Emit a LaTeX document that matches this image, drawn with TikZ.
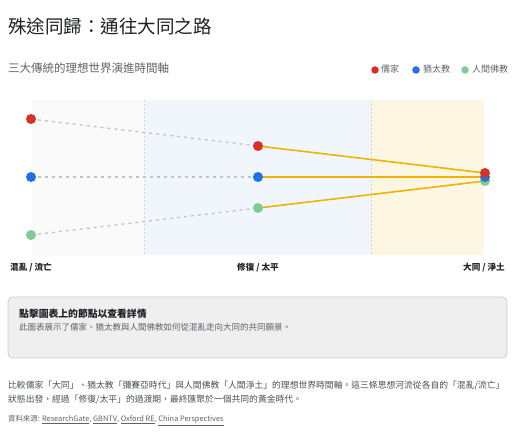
\documentclass[tikz,border=0pt]{standalone}
\usepackage{fontspec}
\setmainfont{Noto Sans CJK TC}
\definecolor{cRed}{HTML}{D93025}
\definecolor{cBlue}{HTML}{1A73E8}
\definecolor{cGreen}{HTML}{81C995}
\definecolor{cGold}{HTML}{F0B400}
\definecolor{cDot}{HTML}{C4C4C4}
\definecolor{cDark}{HTML}{202124}
\definecolor{cGray}{HTML}{5F6368}
\definecolor{bandA}{HTML}{FAFAFA}
\definecolor{bandB}{HTML}{F0F6FC}
\definecolor{bandC}{HTML}{FDF6E3}
\definecolor{boxFill}{HTML}{EFEFEF}
\definecolor{boxLine}{HTML}{CCCCCC}
\tikzset{
  pt/.style={circle, inner sep=0pt, minimum size=10pt},
  legdot/.style={circle, inner sep=0pt, minimum size=7.5pt},
  txt/.style={inner sep=0pt, anchor=base west},
  past/.style={draw=cDot, line width=1.3pt, dash pattern=on 3pt off 4pt},
  future/.style={draw=cGold, line width=1.6pt},
  axislab/.style={inner sep=0pt, anchor=base, font=\fontsize{8.6}{10}\selectfont\bfseries, text=cDark},
}
\begin{document}
\begin{tikzpicture}[x=1pt,y=-1pt]
\useasboundingbox (0,0) rectangle (523,438);
\fill[white] (0,0) rectangle (523,438);
% title
\node[txt, font=\fontsize{18.5}{22}\selectfont, text=cDark] (title) at (8,34) {殊途同歸：通往大同之路};
\node[txt, font=\fontsize{11.5}{14}\selectfont, text=cGray] (sub) at (8,72.5) {三大傳統的理想世界演進時間軸};
% legend
\node[legdot, fill=cRed] (lr) at (375,70) {};
\node[txt, font=\fontsize{9}{11}\selectfont, text=cGray] (lrt) at (381,72.5) {儒家};
\node[legdot, fill=cBlue] (lb) at (416,70) {};
\node[txt, font=\fontsize{9}{11}\selectfont, text=cGray] (lbt) at (423,72.5) {猶太教};
\node[legdot, fill=cGreen] (lg) at (465,70) {};
\node[txt, font=\fontsize{9}{11}\selectfont, text=cGray] (lgt) at (472,72.5) {人間佛教};
% bands
\fill[bandA] (32,100) rectangle (144,255);
\fill[bandB] (144,100) rectangle (371,255);
\fill[bandC] (371,100) rectangle (484,255);
\draw[cDot!70, line width=0.5pt, dash pattern=on 2pt off 2pt] (144,100) -- (144,255);
\draw[cDot!70, line width=0.5pt, dash pattern=on 2pt off 2pt] (371,100) -- (371,255);
% points (coordinates)
\coordinate (r0) at (31,119);
\coordinate (b0) at (31,177);
\coordinate (g0) at (31,235);
\coordinate (r1) at (258,146);
\coordinate (b1) at (258,177);
\coordinate (g1) at (258,208);
\coordinate (r2) at (485,173);
\coordinate (b2) at (485,177);
\coordinate (g2) at (485,181);
% lines
\draw[past] (r0) -- (r1);
\draw[past] (b0) -- (b1);
\draw[past] (g0) -- (g1);
\draw[future] (r1) -- (r2);
\draw[future] (b1) -- (b2);
\draw[future] (g1) -- (g2);
% dots
\node[pt, fill=cRed] (R0) at (r0) {};
\node[pt, fill=cBlue] (B0) at (b0) {};
\node[pt, fill=cGreen] (G0) at (g0) {};
\node[pt, fill=cRed] (R1) at (r1) {};
\node[pt, fill=cBlue] (B1) at (b1) {};
\node[pt, fill=cGreen] (G1) at (g1) {};
\node[pt, fill=cGreen] (G2) at (g2) {};
\node[pt, fill=cBlue] (B2) at (b2) {};
\node[pt, fill=cRed] (R2) at (r2) {};
% axis labels
\node[axislab] (ax0) at (31,270.5) {混亂 / 流亡};
\node[axislab] (ax1) at (258,270.5) {修復 / 太平};
\node[axislab] (ax2) at (484,270.5) {大同 / 淨土};
% info box
\draw[fill=boxFill, draw=boxLine, line width=0.8pt, rounded corners=5pt] (8,297) rectangle (507,358);
\node[txt, font=\fontsize{9.8}{12}\selectfont\bfseries, text=cDark] (bt) at (19,317.5) {點擊圖表上的節點以查看詳情};
\node[txt, font=\fontsize{8.5}{10}\selectfont, text=cGray] (bb) at (19,330.5) {此圖表展示了儒家、猶太教與人間佛教如何從混亂走向大同的共同願景。};
% paragraph
\node[txt, font=\fontsize{8.8}{11}\selectfont, text=cGray!80!black] (p1) at (8,388.5) {比較儒家「大同」、猶太教「彌賽亞時代」與人間佛教「人間淨土」的理想世界時間軸。這三條思想河流從各自的「混亂/流亡」};
\node[txt, font=\fontsize{8.8}{11}\selectfont, text=cGray!80!black] (p2) at (8,402.5) {狀態出發，經過「修復/太平」的過渡期，最終匯聚於一個共同的黃金時代。};
\node[txt, font=\fontsize{7.4}{9}\selectfont, text=cGray] (src) at (8,422) {資料來源: \underline{ResearchGate}, \underline{GBNTV}, \underline{Oxford RE}, \underline{China Perspectives}};
\end{tikzpicture}
\end{document}
